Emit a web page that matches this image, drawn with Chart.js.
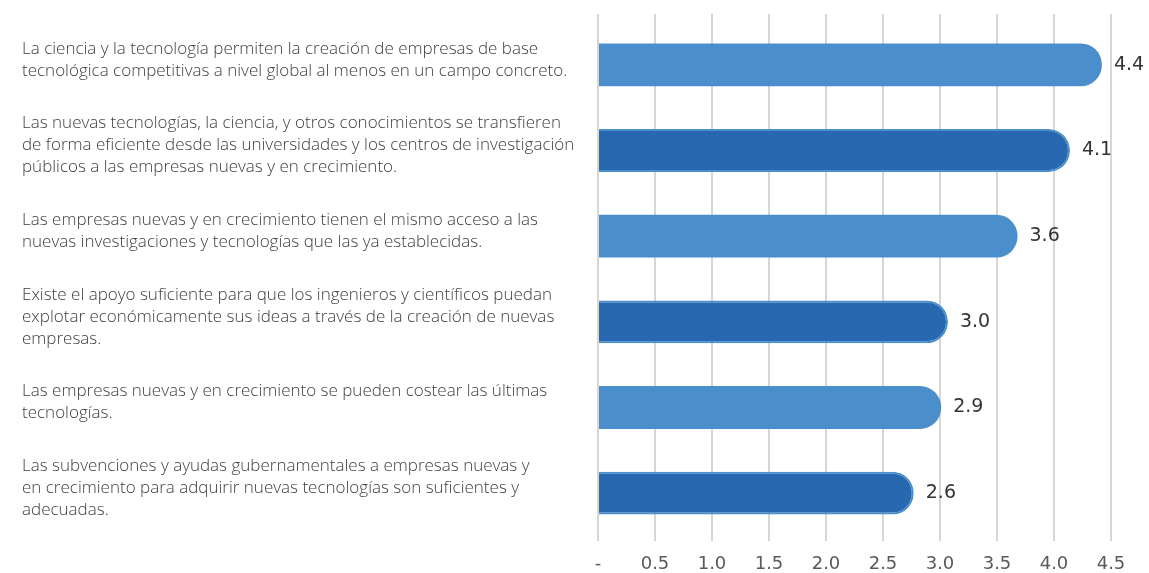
<!DOCTYPE html>
<html>
<head>
<meta charset="utf-8">
<script src="https://cdn.jsdelivr.net/npm/chart.js@4"></script>
<style>
  html, body { margin: 0; padding: 0; background: #fff; }
  #wrap { width: 1149px; height: 573px; }
</style>
</head>
<body>
<div id="wrap"><canvas id="barChart"></canvas></div>
<script>
  /* ── Data ────────────────────────────────────────────────── */
  const categories = [
    ['La ciencia y la tecnología permiten la creación de empresas de base', 'tecnológica competitivas a nivel global al menos en un campo concreto.'],
    ['Las nuevas tecnologías, la ciencia, y otros conocimientos se transfieren', 'de forma eficiente desde las universidades y los centros de investigación', 'públicos a las empresas nuevas y en crecimiento.'],
    ['Las empresas nuevas y en crecimiento tienen el mismo acceso a las', 'nuevas investigaciones y tecnologías que las ya establecidas.'],
    ['Existe el apoyo suficiente para que los ingenieros y científicos puedan', 'explotar económicamente sus ideas a través de la creación de nuevas', 'empresas.'],
    ['Las empresas nuevas y en crecimiento se pueden costear las últimas', 'tecnologías.'],
    ['Las subvenciones y ayudas gubernamentales a empresas nuevas y', 'en crecimiento para adquirir nuevas tecnologías son suficientes y', 'adecuadas.']
  ];
  const barLengths = [4.42, 4.14, 3.68, 3.07, 3.01, 2.77];
  const valueLabels = ['4.4', '4.1', '3.6', '3.0', '2.9', '2.6'];
  const xTicks = [0, 0.5, 1.0, 1.5, 2.0, 2.5, 3.0, 3.5, 4.0, 4.5];

  const LIGHT = '#4a8fcb';
  const DARK  = '#2868b0';
  const GRID  = '#d6d6d6';

  /* ── Grid lines continue a little above the plot ─────────── */
  const gridTopPlugin = {
    id: 'gridTop',
    beforeDatasetsDraw(chart) {
      const { ctx, chartArea, scales } = chart;
      ctx.save();
      ctx.strokeStyle = GRID;
      ctx.lineWidth = 2;
      xTicks.forEach(v => {
        const x = Math.round(scales.x.getPixelForValue(v));
        ctx.beginPath();
        ctx.moveTo(x, 14);
        ctx.lineTo(x, chartArea.top);
        ctx.stroke();
      });
      ctx.restore();
    }
  };

  /* ── Value labels at bar ends ────────────────────────────── */
  const valueLabelPlugin = {
    id: 'valueLabels',
    afterDatasetsDraw(chart) {
      const { ctx } = chart;
      const meta = chart.getDatasetMeta(0);
      ctx.save();
      ctx.font = '19px "DejaVu Sans", sans-serif';
      ctx.fillStyle = '#333333';
      ctx.textAlign = 'left';
      ctx.textBaseline = 'middle';
      meta.data.forEach((bar, i) => {
        ctx.fillText(valueLabels[i], bar.x + 12, bar.y);
      });
      ctx.restore();
    }
  };

  new Chart(document.getElementById('barChart'), {
    type: 'bar',
    data: {
      labels: categories,
      datasets: [{
        data: barLengths,
        backgroundColor: barLengths.map((_, i) => i % 2 ? DARK : LIGHT),
        borderColor: LIGHT,
        borderWidth: barLengths.map((_, i) => i % 2 ? 2 : 0),
        borderSkipped: 'start',
        borderRadius: { topRight: 21, bottomRight: 21, topLeft: 0, bottomLeft: 0 },
        categoryPercentage: 1,
        barPercentage: 0.5
      }]
    },
    options: {
      indexAxis: 'y',
      responsive: true,
      maintainAspectRatio: false,
      animation: false,
      layout: { padding: { left: 22, right: 38, top: 22, bottom: 0 } },
      plugins: { legend: { display: false }, tooltip: { enabled: false } },
      scales: {
        x: {
          min: 0,
          max: 4.5,
          afterBuildTicks: axis => { axis.ticks = xTicks.map(v => ({ value: v })); },
          afterFit: axis => { axis.height = 37; },
          grid: { color: GRID, lineWidth: 2, tickLength: 5, drawTicks: true },
          border: { display: false },
          ticks: {
            padding: 13,
            color: '#595959',
            font: { family: '"DejaVu Sans", sans-serif', size: 18 },
            callback: v => v === 0 ? '-' : v.toFixed(1)
          }
        },
        y: {
          afterFit: axis => {
            axis.width = 576;
            axis.paddingTop = 0;
            axis.paddingBottom = 0;
          },
          grid: { display: false },
          border: { display: false },
          ticks: {
            crossAlign: 'far',
            padding: 0,
            labelOffset: -5,
            color: '#404040',
            font: { family: '"Open Sans", sans-serif', size: 17, weight: '300', lineHeight: 1.3 }
          }
        }
      }
    },
    plugins: [gridTopPlugin, valueLabelPlugin]
  });
</script>
</body>
</html>
